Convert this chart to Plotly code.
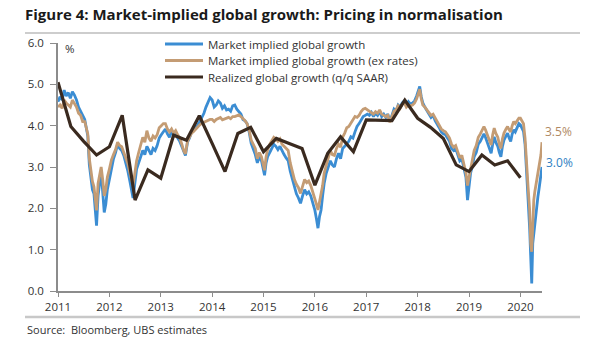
import plotly.graph_objects as go

# ---------------- data ----------------
t_mkt = [
    2011.00, 2011.04, 2011.08, 2011.12, 2011.16, 2011.20, 2011.24, 2011.28, 2011.32, 2011.36,
    2011.40, 2011.44, 2011.48, 2011.52, 2011.55, 2011.58, 2011.61, 2011.64, 2011.67, 2011.70,
    2011.73, 2011.75, 2011.78, 2011.81, 2011.84, 2011.87, 2011.90, 2011.93, 2011.96, 2012.00,
    2012.04, 2012.08, 2012.12, 2012.16, 2012.20, 2012.24, 2012.28, 2012.32, 2012.36, 2012.40,
    2012.43, 2012.46, 2012.49, 2012.53, 2012.57, 2012.61, 2012.65, 2012.69, 2012.73, 2012.77,
    2012.81, 2012.85, 2012.89, 2012.93, 2012.97, 2013.01, 2013.05, 2013.09, 2013.13, 2013.17,
    2013.21, 2013.25, 2013.29, 2013.33, 2013.37, 2013.41, 2013.45, 2013.48, 2013.52, 2013.56,
    2013.60, 2013.64, 2013.68, 2013.72, 2013.76, 2013.80, 2013.84, 2013.88, 2013.92, 2013.96,
    2014.00, 2014.04, 2014.08, 2014.12, 2014.16, 2014.20, 2014.24, 2014.28, 2014.32, 2014.36,
    2014.40, 2014.44, 2014.48, 2014.52, 2014.56, 2014.60, 2014.64, 2014.68, 2014.72, 2014.76,
    2014.80, 2014.84, 2014.88, 2014.92, 2014.96, 2015.00, 2015.02, 2015.05, 2015.08, 2015.12,
    2015.16, 2015.20, 2015.24, 2015.28, 2015.32, 2015.36, 2015.40, 2015.44, 2015.48, 2015.52,
    2015.56, 2015.60, 2015.64, 2015.68, 2015.72, 2015.76, 2015.80, 2015.84, 2015.88, 2015.92,
    2015.96, 2016.00, 2016.03, 2016.06, 2016.09, 2016.12, 2016.15, 2016.18, 2016.22, 2016.26,
    2016.30, 2016.34, 2016.38, 2016.42, 2016.46, 2016.50, 2016.54, 2016.58, 2016.62, 2016.66,
    2016.70, 2016.74, 2016.78, 2016.82, 2016.86, 2016.90, 2016.94, 2016.98, 2017.02, 2017.06,
    2017.10, 2017.14, 2017.18, 2017.22, 2017.26, 2017.30, 2017.34, 2017.38, 2017.42, 2017.46,
    2017.50, 2017.54, 2017.58, 2017.62, 2017.66, 2017.70, 2017.74, 2017.78, 2017.82, 2017.86,
    2017.90, 2017.94, 2017.98, 2018.02, 2018.04, 2018.07, 2018.10, 2018.14, 2018.18, 2018.22,
    2018.26, 2018.30, 2018.34, 2018.38, 2018.42, 2018.46, 2018.50, 2018.54, 2018.58, 2018.62,
    2018.66, 2018.70, 2018.74, 2018.78, 2018.82, 2018.86, 2018.90, 2018.94, 2018.97, 2019.00,
    2019.03, 2019.06, 2019.10, 2019.14, 2019.18, 2019.22, 2019.26, 2019.29, 2019.32, 2019.36,
    2019.40, 2019.43, 2019.46, 2019.49, 2019.52, 2019.56, 2019.59, 2019.62, 2019.65, 2019.68,
    2019.72, 2019.75, 2019.78, 2019.81, 2019.84, 2019.87, 2019.90, 2019.94, 2019.97, 2020.00,
    2020.03, 2020.06, 2020.09, 2020.12, 2020.15, 2020.18, 2020.20, 2020.22, 2020.24, 2020.26,
    2020.28, 2020.30, 2020.32, 2020.34, 2020.36, 2020.38, 2020.40, 2020.42,
]

market_implied = [
    4.58, 4.70, 4.62, 4.86, 4.72, 4.80, 4.66, 4.82, 4.74, 4.62,
    4.45, 4.35, 4.22, 4.15, 3.95, 3.75, 3.05, 2.70, 2.45, 2.35,
    1.95, 1.58, 2.30, 2.60, 2.90, 2.40, 1.90, 2.10, 2.45, 2.70,
    3.00, 3.20, 3.35, 3.55, 3.45, 3.40, 3.28, 3.10, 2.90, 2.65,
    2.45, 2.25, 2.55, 2.95, 3.10, 3.25, 3.40, 3.30, 3.50, 3.40,
    3.30, 3.45, 3.40, 3.52, 3.70, 3.78, 3.85, 3.92, 3.80, 3.72,
    3.85, 3.78, 3.85, 3.70, 3.62, 3.50, 3.35, 3.28, 3.60, 3.70,
    3.85, 3.90, 3.95, 4.02, 4.10, 4.20, 4.30, 4.45, 4.55, 4.68,
    4.62, 4.45, 4.50, 4.60, 4.55, 4.42, 4.48, 4.38, 4.40, 4.35,
    4.48, 4.50, 4.40, 4.35, 4.28, 4.15, 4.12, 4.05, 3.85, 3.57,
    3.45, 3.30, 3.10, 3.25, 3.15, 2.90, 2.80, 3.10, 3.25, 3.35,
    3.45, 3.55, 3.50, 3.42, 3.50, 3.38, 3.30, 3.22, 3.15, 2.90,
    2.70, 2.50, 2.35, 2.25, 2.12, 2.30, 2.45, 2.35, 2.40, 2.30,
    2.15, 1.95, 1.75, 1.52, 1.80, 1.96, 2.30, 2.60, 2.85, 3.00,
    3.15, 3.05, 3.00, 3.20, 3.33, 3.20, 3.45, 3.50, 3.55, 3.62,
    3.73, 3.70, 3.85, 3.98, 4.05, 4.14, 4.22, 4.25, 4.28, 4.25,
    4.32, 4.22, 4.30, 4.25, 4.35, 4.22, 4.28, 4.20, 4.28, 4.10,
    4.25, 4.40, 4.35, 4.50, 4.45, 4.55, 4.60, 4.50, 4.58, 4.52,
    4.55, 4.60, 4.72, 4.85, 4.95, 4.70, 4.55, 4.45, 4.35, 4.28,
    4.20, 4.25, 4.12, 4.05, 3.95, 3.85, 3.80, 3.78, 3.70, 3.62,
    3.45, 3.40, 3.45, 3.28, 3.15, 3.20, 3.00, 2.75, 2.20, 2.60,
    2.85, 3.00, 3.25, 3.35, 3.55, 3.62, 3.73, 3.80, 3.72, 3.57,
    3.42, 3.33, 3.55, 3.73, 3.60, 3.50, 3.35, 3.25, 3.50, 3.65,
    3.75, 3.82, 3.70, 3.62, 3.80, 3.90, 3.85, 3.98, 4.05, 4.02,
    3.95, 3.86, 3.55, 3.00, 2.20, 1.50, 0.85, 0.18, 1.15, 1.40,
    1.60, 1.88, 2.05, 2.28, 2.45, 2.60, 2.85, 3.00,
]

market_implied_ex_rates = [
    4.45, 4.50, 4.42, 4.62, 4.55, 4.50, 4.45, 4.62, 4.55, 4.45,
    4.30, 4.25, 4.10, 4.10, 3.95, 3.80, 3.20, 2.85, 2.65, 2.52,
    2.20, 1.95, 2.60, 2.85, 3.00, 2.70, 2.30, 2.45, 2.75, 2.95,
    3.17, 3.30, 3.42, 3.60, 3.52, 3.49, 3.35, 3.22, 3.08, 2.85,
    2.68, 2.55, 2.80, 3.15, 3.35, 3.55, 3.72, 3.60, 3.88, 3.70,
    3.62, 3.75, 3.70, 3.78, 3.95, 4.00, 4.05, 4.05, 3.92, 3.85,
    3.92, 3.82, 3.88, 3.78, 3.70, 3.55, 3.38, 3.32, 3.62, 3.72,
    3.82, 3.86, 3.92, 3.98, 4.02, 4.06, 4.08, 4.10, 4.12, 4.15,
    4.15, 4.10, 4.15, 4.18, 4.20, 4.14, 4.16, 4.18, 4.20, 4.17,
    4.22, 4.22, 4.25, 4.26, 4.22, 4.18, 4.12, 4.05, 3.90, 3.65,
    3.55, 3.45, 3.20, 3.35, 3.25, 3.00, 2.92, 3.25, 3.42, 3.55,
    3.62, 3.72, 3.68, 3.62, 3.68, 3.55, 3.50, 3.45, 3.40, 3.10,
    2.88, 2.70, 2.58, 2.50, 2.36, 2.52, 2.70, 2.62, 2.66, 2.55,
    2.40, 2.20, 2.10, 1.96, 2.15, 2.28, 2.55, 2.85, 3.05, 3.18,
    3.40, 3.30, 3.28, 3.45, 3.55, 3.48, 3.72, 3.82, 3.95, 3.98,
    4.05, 4.12, 4.22, 4.20, 4.25, 4.34, 4.40, 4.42, 4.38, 4.35,
    4.30, 4.28, 4.34, 4.30, 4.38, 4.28, 4.25, 4.22, 4.25, 4.08,
    4.22, 4.35, 4.38, 4.48, 4.42, 4.52, 4.55, 4.45, 4.50, 4.48,
    4.50, 4.55, 4.65, 4.78, 4.88, 4.65, 4.50, 4.45, 4.38, 4.30,
    4.25, 4.28, 4.18, 4.12, 4.02, 3.92, 3.88, 3.85, 3.78, 3.70,
    3.55, 3.48, 3.52, 3.35, 3.22, 3.28, 3.05, 2.85, 2.55, 2.75,
    2.98, 3.12, 3.40, 3.52, 3.72, 3.80, 3.90, 3.98, 3.90, 3.75,
    3.60, 3.53, 3.78, 3.94, 3.82, 3.72, 3.55, 3.45, 3.68, 3.82,
    3.92, 3.98, 3.90, 3.85, 4.00, 4.10, 4.05, 4.14, 4.18, 4.18,
    4.12, 4.05, 3.70, 3.20, 2.50, 1.95, 1.15, 0.95, 1.60, 2.20,
    2.40, 2.55, 2.65, 2.80, 2.95, 3.10, 3.30, 3.60,
]

t_realized = [
    2011.00, 2011.25, 2011.50, 2011.75, 2012.00, 2012.25, 2012.50, 2012.75,
    2013.00, 2013.25, 2013.50, 2013.75, 2014.00, 2014.25, 2014.50, 2014.75,
    2015.00, 2015.25, 2015.50, 2015.75, 2016.00, 2016.25, 2016.50, 2016.75,
    2017.00, 2017.25, 2017.50, 2017.75, 2018.00, 2018.25, 2018.50, 2018.75,
    2019.00, 2019.25, 2019.50, 2019.75, 2020.00,
]
realized = [
    5.05, 3.98, 3.62, 3.29, 3.49, 4.25, 2.20, 2.93,
    2.73, 3.77, 3.65, 4.24, 3.57, 2.89, 3.81, 3.96,
    3.37, 3.69, 3.57, 3.45, 2.56, 3.33, 3.73, 3.37,
    4.14, 4.13, 4.12, 4.62, 4.18, 3.96, 3.69, 3.05,
    2.89, 3.29, 3.05, 3.15, 2.74,
]

year_ticks = [2011, 2012, 2013, 2014, 2015, 2016, 2017, 2018, 2019, 2020]
y_ticks = [0, 1, 2, 3, 4, 5, 6]
last_ex_rates_label = "3.5%"
last_market_label = "3.0%"

# ---------------- styling ----------------
BLUE = "#3b8dd3"
TAN = "#c49c74"
DARK = "#3a2a1f"
AXIS = "#8c8c8c"
TXT = "#333333"
FONT = "Open Sans"

W, H = 605, 341
L, R, T, B = 58, 63, 43, 50
PW, PH = W - L - R, H - T - B


def px_x(px):
    return (px - L) / PW


def px_y(py):
    return (H - B - py) / PH


fig = go.Figure()
fig.add_trace(go.Scatter(
    x=t_mkt, y=market_implied, mode="lines", name="Market implied global growth",
    line=dict(color=BLUE, width=2.8), legend="legend", showlegend=True))
fig.add_trace(go.Scatter(
    x=t_mkt, y=market_implied_ex_rates, mode="lines",
    name="Market implied global growth (ex rates)",
    line=dict(color=TAN, width=2.8), legend="legend2", showlegend=True))
fig.add_trace(go.Scatter(
    x=t_realized, y=realized, mode="lines", name="Realized global growth (q/q SAAR)",
    line=dict(color=DARK, width=3.2), legend="legend3", showlegend=True))

leg_common = dict(
    xanchor="left", yanchor="middle", bgcolor="rgba(0,0,0,0)", borderwidth=0,
    font=dict(family=FONT, size=11.5, color=TXT), itemwidth=38, visible=True,
)
fig.update_layout(
    showlegend=True,
    legend=dict(x=px_x(160), y=px_y(44), **leg_common),
    legend2=dict(x=px_x(160), y=px_y(60.5), **leg_common),
    legend3=dict(x=px_x(160), y=px_y(77), **leg_common),
)

fig.update_xaxes(
    range=[2011, 2020.42], tickmode="array", tickvals=year_ticks,
    ticktext=[str(v) for v in year_ticks], showgrid=False, zeroline=False,
    showline=True, linecolor=AXIS, linewidth=1.5, ticks="outside", ticklen=4,
    tickcolor=AXIS, tickwidth=1.2,
    tickfont=dict(family=FONT, size=11.5, color=TXT),
)
fig.update_yaxes(
    range=[0, 6], tickmode="array", tickvals=y_ticks,
    ticktext=[f"{v:.1f}" for v in y_ticks], showgrid=False, zeroline=False,
    showline=True, linecolor=AXIS, linewidth=1.5, ticks="outside", ticklen=6,
    tickcolor=AXIS, tickwidth=1.2, ticklabelstandoff=4,
    tickfont=dict(family=FONT, size=11.5, color=TXT),
)

fig.update_layout(
    width=W, height=H, autosize=False,
    margin=dict(l=L, r=R, t=T, b=B),
    paper_bgcolor="white", plot_bgcolor="white",
    title=dict(
        text="<b>Figure 4: Market-implied global growth: Pricing in normalisation</b>",
        x=25 / W, xanchor="left", xref="container",
        y=1 - 15 / H, yanchor="middle", yref="container",
        font=dict(family=FONT, size=15, color="#1a1a1a"),
    ),
    annotations=[
        dict(text="%", xref="paper", yref="paper", x=px_x(63), y=px_y(49),
             xanchor="left", yanchor="middle", showarrow=False,
             font=dict(family=FONT, size=11.5, color=TXT)),
        dict(text=last_ex_rates_label, xref="paper", yref="paper", x=px_x(543), y=px_y(131),
             xanchor="left", yanchor="middle", showarrow=False,
             font=dict(family=FONT, size=12, color="#b08963")),
        dict(text=last_market_label, xref="paper", yref="paper", x=px_x(544), y=px_y(162),
             xanchor="left", yanchor="middle", showarrow=False,
             font=dict(family=FONT, size=12, color="#2f7fc3")),
        dict(text="Source:&nbsp; Bloomberg, UBS estimates", xref="paper", yref="paper",
             x=px_x(25), y=px_y(329), xanchor="left", yanchor="middle", showarrow=False,
             font=dict(family=FONT, size=11, color=TXT)),
    ],
    shapes=[
        dict(type="line", xref="paper", yref="paper", x0=px_x(25), x1=px_x(580),
             y0=px_y(33), y1=px_y(33), line=dict(color="#bdbdbd", width=1.5)),
        dict(type="line", xref="paper", yref="paper", x0=px_x(25), x1=px_x(580),
             y0=px_y(317), y1=px_y(317), line=dict(color="#c8c8c8", width=2.5)),
    ],
)

fig.write_html("out.html")
